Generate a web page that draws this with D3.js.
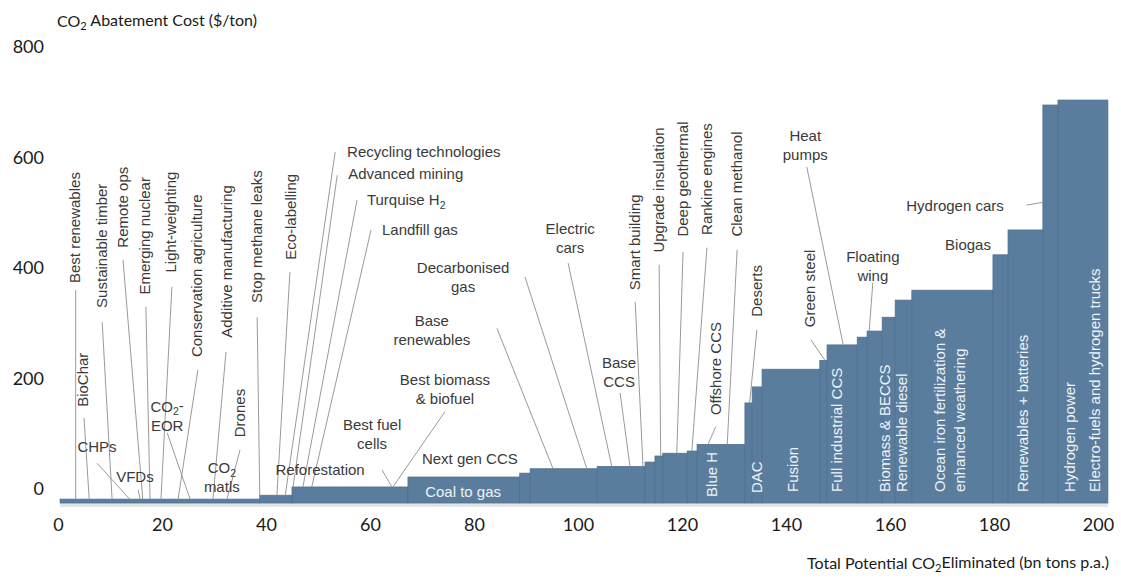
<!DOCTYPE html>
<html>
<head>
<meta charset="utf-8">
<script src="https://cdn.jsdelivr.net/npm/d3@7"></script>
<style>
  body { margin: 0; background: #fff; }
  .lab { font-family: "Liberation Sans", Arial, sans-serif; font-size: 15px; fill: #3a3a3a; }
  .lab.in { fill: #eef3f8; }
  .ax { font-family: Lato, "Open Sans", sans-serif; font-size: 18px; fill: #1a1a1a; }
</style>
</head>
<body>
<div id="chart"></div>
<script>
// size of the picture
const width = 1121, height = 579;

// abatement steps, left to right: potential (bn tons p.a.) and cost ($/ton)
const firstStart = 0.4;
const potential = [38.4, 6.2, 22.3, 21.5, 2.0, 12.9, 9.2, 1.9, 1.5, 4.7, 1.9, 9.2, 1.4,
                   1.9, 11.1, 1.4, 5.8, 1.9, 2.9, 2.5, 3.2, 15.6, 2.9, 6.7, 2.9, 9.6];
const cost = [-18, -11, 4, 22, 29, 37, 41, 49, 60, 65, 69, 81, 156,
              185, 217, 233, 261, 275, 286, 311, 342, 360, 424, 469, 695, 704];

// tick labels
const xTicks = [0, 20, 40, 60, 80, 100, 120, 140, 160, 180, 200];
const yTicks = [0, 200, 400, 600, 800];

// labels: x/y in data units, rot = vertical, lead = leader line [x1,y1,x2,y2]
// "_2" marks a subscript 2, "|" a line break
const annotations = [
  { t: "Best renewables", x: 3.3, y: 373, rot: true, lead: [3.4, 360, 3.4, -18] },
  { t: "BioChar", x: 4.8, y: 149, rot: true, lead: [5.0, 129, 6.0, -18] },
  { t: "Sustainable timber", x: 8.5, y: 328, rot: true, lead: [8.5, 302, 10.4, -18] },
  { t: "Remote ops", x: 12.5, y: 437, rot: true, lead: [12.5, 415, 16.3, -18] },
  { t: "Emerging nuclear", x: 16.7, y: 352, rot: true, lead: [16.9, 330, 17.7, -18] },
  { t: "Light-weighting", x: 21.7, y: 392, rot: true, lead: [21.9, 366, 19.8, -18] },
  { t: "Conservation agriculture", x: 26.7, y: 239, rot: true, lead: [26.9, 216, 23.1, -18] },
  { t: "Additive manufacturing", x: 32.5, y: 274, rot: true, lead: [32.3, 248, 29.8, -18] },
  { t: "Stop methane leaks", x: 38.3, y: 337, rot: true, lead: [38.3, 311, 38.8, -11] },
  { t: "Eco-labelling", x: 44.8, y: 415, rot: true, lead: [44.6, 393, 42.1, -11] },
  { t: "Drones", x: 35.0, y: 94, rot: true, lead: [35.0, 71, 32.5, -18] },
  { t: "CHPs", x: 7.5, y: 76, lead: [7.5, 47, 13.8, -18] },
  { t: "VFDs", x: 14.8, y: 22, lead: [15.4, -1, 15.8, -18] },
  { t: "CO_2-|EOR", x: 21.0, y: 149, lead: [21.0, 102, 25.4, -18] },
  { t: "CO_2|matls", x: 31.5, y: 38 },
  { t: "Reforestation", x: 50.4, y: 35 },
  { t: "Best fuel|cells", x: 60.4, y: 116, lead: [62.3, 35, 64.2, 4] },
  { t: "Best biomass|& biofuel", x: 74.4, y: 198, lead: [74.4, 140, 64.4, 4] },
  { t: "Next gen CCS", x: 79.2, y: 55 },
  { t: "Coal to gas", x: 77.9, y: -5, inside: true },
  { t: "Base|renewables", x: 71.9, y: 304, lead: [84.4, 291, 95.2, 37] },
  { t: "Decarbonised|gas", x: 77.9, y: 401, lead: [89.8, 384, 101.7, 37] },
  { t: "Electric|cars", x: 98.5, y: 472, lead: [98.1, 409, 106.5, 41] },
  { t: "Recycling technologies", x: 55.6, y: 610, start: true, lead: [53.3, 610, 43.7, -11] },
  { t: "Advanced mining", x: 55.8, y: 570, start: true, lead: [53.7, 568, 45.2, 4] },
  { t: "Turquise H_2", x: 59.4, y: 523, start: true, lead: [57.5, 523, 47.1, 4] },
  { t: "Landfill gas", x: 62.3, y: 469, start: true, lead: [60.2, 469, 48.8, 4] },
  { t: "Base|CCS", x: 107.9, y: 228, lead: [108.1, 174, 110.0, 41] },
  { t: "Smart building", x: 111.0, y: 360, rot: true, lead: [111.0, 339, 112.5, 41] },
  { t: "Upgrade insulation", x: 115.6, y: 428, rot: true, lead: [115.6, 406, 115.9, 60] },
  { t: "Deep geothermal", x: 120.2, y: 457, rot: true, lead: [120.2, 429, 119.0, 65] },
  { t: "Rankine engines", x: 124.8, y: 460, rot: true, lead: [124.8, 437, 121.9, 69] },
  { t: "Clean methanol", x: 130.6, y: 457, rot: true, lead: [130.6, 433, 128.7, 81] },
  { t: "Offshore CCS", x: 126.5, y: 134, rot: true, lead: [126.5, 113, 125.0, 81] },
  { t: "Blue H", x: 125.8, y: -14, rot: true, inside: true },
  { t: "Deserts", x: 134.4, y: 312, rot: true, lead: [134.4, 288, 133.0, 156] },
  { t: "DAC", x: 134.4, y: -7, rot: true, inside: true },
  { t: "Fusion", x: 141.3, y: -5, rot: true, inside: true },
  { t: "Heat|pumps", x: 143.7, y: 639, lead: [144.0, 583, 151.0, 261] },
  { t: "Green steel", x: 144.6, y: 293, rot: true, lead: [144.8, 270, 147.5, 233] },
  { t: "Full industrial CCS", x: 149.8, y: -5, rot: true, inside: true },
  { t: "Floating|wing", x: 156.7, y: 420, lead: [156.7, 374, 156.0, 286] },
  { t: "Biomass & BECCS", x: 159.0, y: -5, rot: true, inside: true },
  { t: "Renewable diesel", x: 162.3, y: -5, rot: true, inside: true },
  { t: "Ocean iron fertilization &", x: 169.6, y: -5, rot: true, inside: true },
  { t: "enhanced weathering", x: 173.5, y: -5, rot: true, inside: true },
  { t: "Renewables + batteries", x: 185.6, y: -5, rot: true, inside: true },
  { t: "Biogas", x: 175.0, y: 442 },
  { t: "Hydrogen cars", x: 172.5, y: 512, lead: [186.3, 514, 189.4, 519] },
  { t: "Hydrogen power", x: 194.6, y: -5, rot: true, inside: true },
  { t: "Electro-fuels and hydrogen trucks", x: 199.4, y: -5, rot: true, inside: true }
];

// build steps with start positions
let acc = firstStart;
const steps = potential.map((w, i) => {
  const s = { x0: acc, x1: acc + w, cost: cost[i] };
  acc += w;
  return s;
});

const x = d3.scaleLinear().domain([0, 200]).range([58, 1098]);
const y = d3.scaleLinear().domain([-25, 800]).range([503, 47]);

const svg = d3.select("#chart").append("svg")
  .attr("width", width)
  .attr("height", height);

// 文字里的下标
const addText = (sel, str) => {
  str.split("_2").forEach((part, i) => {
    if (i > 0) {
      sel.append("tspan").attr("font-size", "70%").attr("dy", "0.3em").text("2");
      sel.append("tspan").attr("dy", "-0.3em").text(part);
    } else {
      sel.append("tspan").text(part);
    }
  });
};

// soft shadow under the bars
svg.append("rect")
  .attr("x", x(firstStart))
  .attr("y", y(-25))
  .attr("width", x(acc) - x(firstStart))
  .attr("height", 4)
  .attr("fill", "#e4e4e4");

// bars
svg.append("g").selectAll("rect")
  .data(steps)
  .join("rect")
  .attr("x", d => x(d.x0))
  .attr("y", d => y(d.cost))
  .attr("width", d => x(d.x1) - x(d.x0))
  .attr("height", d => y(-25) - y(d.cost))
  .attr("fill", "#5a7d9d")
  .attr("stroke", "#4f7191")
  .attr("stroke-width", 0.8);

// leader lines
svg.append("g").selectAll("line")
  .data(annotations.filter(a => a.lead))
  .join("line")
  .attr("x1", d => x(d.lead[0]))
  .attr("y1", d => y(d.lead[1]))
  .attr("x2", d => x(d.lead[2]))
  .attr("y2", d => y(d.lead[3]))
  .attr("stroke", "#9a9a9a")
  .attr("stroke-width", 1);

// labels
const labG = svg.append("g");
annotations.forEach(a => {
  const px = x(a.x), py = y(a.y);
  if (a.rot) {
    const t = labG.append("text")
      .attr("class", a.inside ? "lab in" : "lab")
      .attr("transform", `translate(${px},${py}) rotate(-90)`)
      .attr("dy", "0.35em")
      .attr("text-anchor", "start");
    addText(t, a.t);
  } else {
    a.t.split("|").forEach((line, i) => {
      const t = labG.append("text")
        .attr("class", a.inside ? "lab in" : "lab")
        .attr("x", px)
        .attr("y", py + i * 19)
        .attr("dy", "0.35em")
        .attr("text-anchor", a.start ? "start" : "middle");
      addText(t, line);
    });
  }
});

// axes (labels only)
const yAxis = svg.append("g")
  .attr("transform", "translate(44,0)")
  .call(d3.axisLeft(y).tickValues(yTicks).tickSize(0).tickPadding(0));
yAxis.select(".domain").remove();
yAxis.selectAll("text").attr("class", "ax").attr("font-size", null).attr("font-family", null);

const xAxis = svg.append("g")
  .attr("transform", "translate(0,518)")
  .call(d3.axisBottom(x).tickValues(xTicks).tickSize(0).tickPadding(0));
xAxis.select(".domain").remove();
xAxis.selectAll("text").attr("class", "ax").attr("font-size", null).attr("font-family", null);

// axis titles
const yTitle = svg.append("text").attr("class", "ax").attr("x", 57).attr("y", 27).style("font-size", "16px");
addText(yTitle, "CO_2 Abatement Cost ($/ton)");
const xTitle = svg.append("text").attr("class", "ax").attr("x", 1109).attr("y", 569)
  .attr("text-anchor", "end").style("font-size", "16px");
addText(xTitle, "Total Potential CO_2Eliminated (bn tons p.a.)");
</script>
</body>
</html>
